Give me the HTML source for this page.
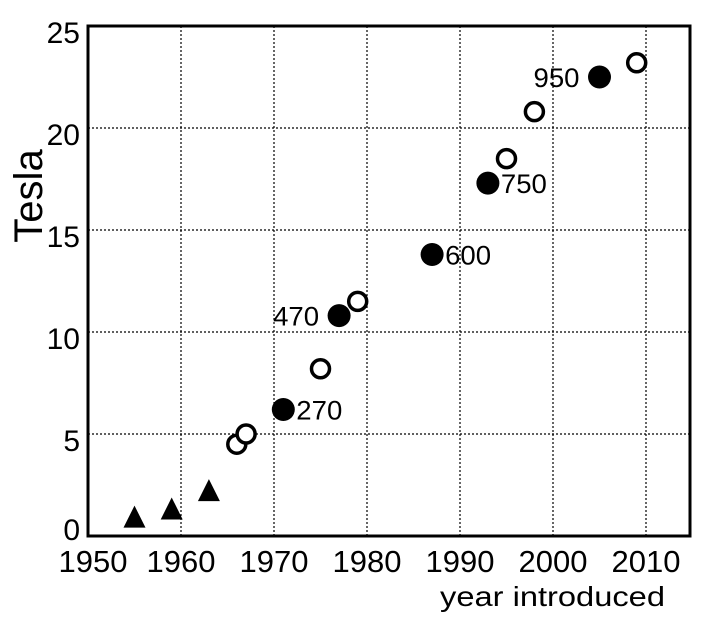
<!DOCTYPE html>
<html><head><meta charset="utf-8"><style>
html,body{margin:0;padding:0;background:#fff;}
svg{display:block;font-family:"Liberation Sans",Arial,sans-serif;}
</style></head><body>
<svg id="chart" width="720" height="620">
<g id="grid"></g>
<g id="axes"></g>
<g id="marks"></g>
<text x="0" y="0" transform="translate(42,196) rotate(-90)" text-anchor="middle" font-size="40">Tesla</text>
<text x="440" y="606" font-size="28" textLength="225" lengthAdjust="spacingAndGlyphs">year introduced</text>
</svg>
<script>
const xTicks=[1950,1960,1970,1980,1990,2000,2010];
const yTicks=[0,5,10,15,20,25];
const triYears=[1955,1959,1963];
const triValues=[0.9,1.3,2.2];
const openYears=[1966,1967,1975,1979,1995,1998,2009];
const openValues=[4.5,5.0,8.2,11.5,18.5,20.8,23.2];
const filledYears=[1971,1977,1987,1993,2005];
const filledValues=[6.2,10.8,13.8,17.3,22.5];
const filledLabels=["270","470","600","750","950"];
const labelSide=["right","left","right","right","left"];

const L=88,R=690,T=26,B=536,X0=1950,PX=9.3;
const xs=v=>L+(v-X0)*PX;
const ys=v=>B-(v/25)*(B-T);
const NS="http://www.w3.org/2000/svg";
function mk(tag,parent,attrs){const e=document.createElementNS(NS,tag);for(const k in attrs)e.setAttribute(k,attrs[k]);parent.appendChild(e);return e;}
const grid=document.getElementById('grid'),axes=document.getElementById('axes'),marks=document.getElementById('marks');
xTicks.forEach(t=>{
  if(t>X0){const l=mk('line',grid,{x1:xs(t),x2:xs(t),y1:T,y2:B,stroke:'#000','stroke-width':1.2,'stroke-dasharray':'2,2'});
  
  }
  const tx=mk('text',axes,{x:xs(t)+(t==1950?5:0),y:B+36,'text-anchor':'middle','font-size':31});
  tx.textContent=t;
  
  
});
yTicks.forEach(t=>{
  if(t>0&&t<25){const l=mk('line',grid,{x1:L,x2:R,y1:ys(t),y2:ys(t),stroke:'#000','stroke-width':1.2,'stroke-dasharray':'2,2'});
  
  }
  const tx=mk('text',axes,{x:L-8,y:ys(t)+(t==0?4:17),'text-anchor':'end','font-size':30});
  tx.textContent=t;
  
  
});
const frame=mk('rect',axes,{x:L,y:T,width:R-L,height:B-T,fill:'none',stroke:'#000','stroke-width':3});


triYears.forEach((yr,i)=>{
  const cx=xs(yr),cy=ys(triValues[i]);
  const p=mk('polygon',marks,{points:`${cx},${cy-12} ${cx-11},${cy+10} ${cx+11},${cy+10}`,fill:'#000'});
  
  
});
openYears.forEach((yr,i)=>{
  const c=mk('circle',marks,{cx:xs(yr),cy:ys(openValues[i]),r:9,fill:'#fff',stroke:'#000','stroke-width':3.5});
  
  
});
filledYears.forEach((yr,i)=>{
  const cx=xs(yr),cy=ys(filledValues[i]);
  const c=mk('circle',marks,{cx:cx,cy:cy,r:11.5,fill:'#000'});
  
  
  const right=labelSide[i]==='right';
  const t=mk('text',marks,{x:right?cx+13:cx-66,y:cy+10,'font-size':27,textLength:46,lengthAdjust:'spacingAndGlyphs'});
  t.textContent=filledLabels[i];
  
  
});
</script>
</body></html>
